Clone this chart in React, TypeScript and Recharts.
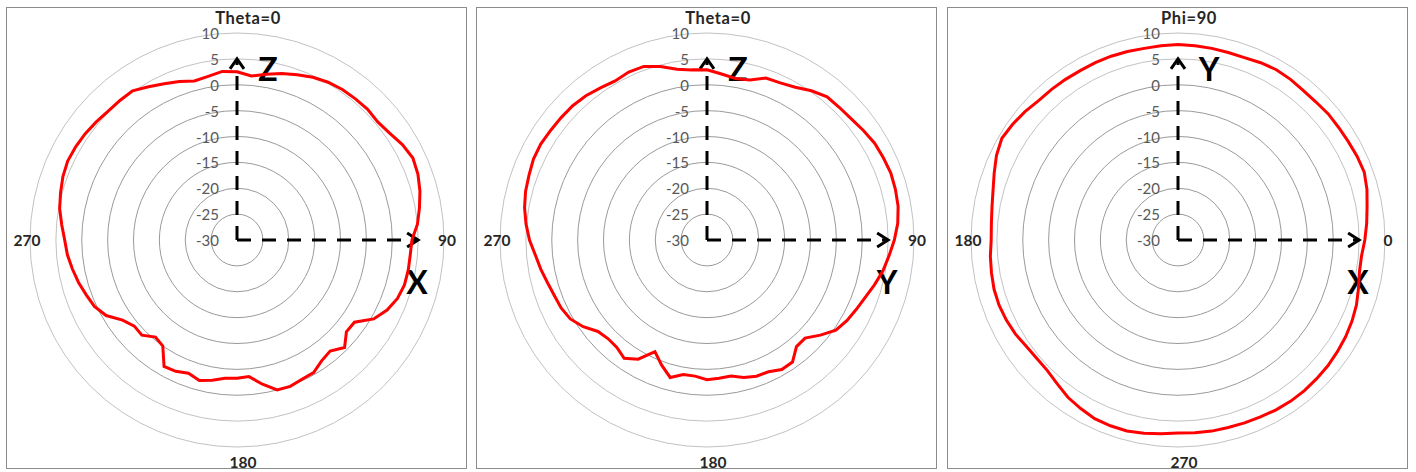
import React from 'react'
import { RadarChart, Radar, PolarGrid, PolarAngleAxis, PolarRadiusAxis, Customized } from 'recharts'

// measured angles (deg) – same sampling for all three cuts
const ANGLES = [
  0, 5, 10, 15, 20, 25, 30, 35, 40, 45, 50, 55, 60, 65, 70, 75, 80, 85,
  90, 95, 100, 105, 110, 115, 120, 125, 130, 135, 140, 145, 150, 155, 160, 165, 170, 175,
  180, 185, 190, 195, 200, 205, 210, 215, 220, 225, 230, 235, 240, 245, 250, 255, 260, 265,
  270, 275, 280, 285, 290, 295, 300, 305, 310, 315, 320, 325, 330, 335, 340, 345, 350, 355,
]

// gain in dBi, XZ plane (Theta=0 at top)
const GAIN_XZ = [
  2.5, 1.8, 2.5, 3.3, 4.0, 4.7, 5.2, 5.5, 5.6, 5.7, 5.5, 6.0, 6.9, 7.5, 7.2, 6.6, 5.8, 5.0,
  3.8, 3.6, 3.6, 3.5, 3.0, 2.0, 0.5, -2.3, -2.4, -0.6, -2.0, -1.5, -0.4, -0.3, 0.1, 0.0, -1.7, -3.5,
  -3.3, -3.2, -2.5, -1.9, -2.6, -2.0, -1.8, -5.0, -5.5, -4.0, -4.1, -3.0, -0.8, 0.4, 1.0, 1.7, 2.3, 2.9,
  3.3, 4.0, 4.8, 5.3, 5.8, 6.1, 6.0, 5.8, 5.5, 5.2, 5.2, 5.2, 4.2, 3.3, 2.6, 1.8, 2.1, 2.7,
]

// gain in dBi, YZ plane (Theta=0 at top)
const GAIN_YZ = [
  2.9, 2.2, 1.7, 2.0, 3.3, 3.5, 4.1, 5.2, 6.1, 6.2, 6.4, 6.9, 7.4, 7.6, 7.8, 7.7, 7.5, 7.0,
  6.2, 5.3, 4.5, 3.5, 2.5, 1.8, 1.2, 0.4, -1.4, -3.2, -3.1, -1.2, -1.1, -1.9, -2.0, -2.5, -3.3, -3.2,
  -3.0, -3.6, -3.6, -2.5, -4.3, -6.2, -3.4, -2.1, -2.9, -3.0, -2.5, -0.8, 0.5, 1.1, 1.4, 1.9, 2.6, 3.3,
  4.3, 5.1, 5.8, 6.3, 6.6, 7.0, 7.1, 6.9, 6.8, 6.7, 6.4, 5.9, 5.5, 5.8, 5.7, 4.7, 3.5, 3.0,
]

// gain in dBi, XY plane (Phi, 0 at right, counter-clockwise)
const GAIN_XY = [
  6.1, 6.6, 7.1, 7.8, 8.3, 8.2, 8.0, 7.9, 7.9, 7.7, 7.7, 7.9, 8.0, 7.8, 7.5, 7.5, 7.6, 7.7,
  7.8, 7.7, 7.6, 7.7, 7.8, 7.8, 7.8, 7.9, 8.0, 8.1, 8.6, 9.0, 9.3, 8.7, 7.8, 7.0, 6.5, 6.2,
  6.1, 6.4, 6.6, 6.8, 6.8, 6.6, 6.3, 5.8, 5.6, 5.7, 6.3, 7.1, 7.6, 8.1, 8.2, 8.2, 7.9, 7.6,
  7.3, 7.4, 7.5, 7.5, 7.6, 7.7, 7.9, 8.0, 8.0, 7.9, 7.8, 7.6, 7.4, 7.1, 6.7, 6.1, 5.6, 5.6,
]

const RADIUS_TICKS = [-30, -25, -20, -15, -10, -5, 0, 5, 10]

const LABELS_THETA: Record<number, string> = { 0: 'Theta=0', 90: '90', 180: '180', 270: '270' }
const LABELS_PHI: Record<number, string> = { 0: '0', 90: 'Phi=90', 180: '180', 270: '270' }

const W = 470
const H = 472
const CX = 237
const CY = 240
const R = 207
const MIN = -30
const MAX = 10
const FONT = 'Lato, "Open Sans", sans-serif'

const rOf = (v: number) => ((v - MIN) / (MAX - MIN)) * R

function AxisArrows({ up, right }: { up: string; right: string }) {
  const r = rOf(5)
  const k = { stroke: '#000', strokeWidth: 3, fill: 'none' }
  return (
    <g>
      <line x1={CX} y1={CY} x2={CX} y2={CY - r} {...k} strokeDasharray="14 11" />
      <line x1={CX} y1={CY} x2={CX + r} y2={CY} {...k} strokeDasharray="14 11" />
      <polyline points={`${CX - 7},${CY - r + 10} ${CX},${CY - r} ${CX + 7},${CY - r + 10}`} {...k} />
      <polyline points={`${CX + r - 11},${CY - 7} ${CX + r},${CY} ${CX + r - 11},${CY + 7}`} {...k} />
      <text x={CX + 31} y={CY - 172} textAnchor="middle" dominantBaseline="central"
        fontSize={32} fontWeight="bold" fontFamily={FONT} fill="#000">{up}</text>
      <text x={CX + 180} y={CY + 41} textAnchor="middle" dominantBaseline="central"
        fontSize={32} fontWeight="bold" fontFamily={FONT} fill="#000">{right}</text>
    </g>
  )
}

const RadiusTick = (props: any) => {
  const { x, y, payload } = props
  return (
    <text x={x - 18} y={y} textAnchor="end" dominantBaseline="central"
      fontSize={15} fontFamily={FONT} fill="#595959">{payload.value}</text>
  )
}

function angleTick(labels: Record<number, string>) {
  return (props: any) => {
    const { payload } = props
    const text = labels[payload.value]
    if (text === undefined) return <g />
    const a = (payload.coordinate * Math.PI) / 180
    const c = Math.cos(a)
    const s = Math.sin(a)
    const d = R + 3 + 12 * Math.abs(s)
    let x = CX + c * d + (Math.abs(s) > 0.5 ? 6 : 0)
    const y = CY - s * d
    const title = text.includes('=')
    if (title) x += 5
    return (
      <text x={x} y={y} textAnchor="middle" dominantBaseline="central" letterSpacing={title ? 0.6 : 0}
        fontSize={title ? 16.5 : 15.5} fontWeight="bold" fontFamily={FONT} fill="#262626">{text}</text>
    )
  }
}

// every panel is drawn clockwise from the top; `order` lists the angle shown at each step
function Panel({ gains, labels, up, right, order, left }: any) {
  const data = order.map((angle: number) => ({ angle, gain: gains[ANGLES.indexOf(angle)] }))
  const inner = RADIUS_TICKS.filter((t) => t <= 0).map(rOf)
  const outer = RADIUS_TICKS.filter((t) => t > 0).map(rOf)
  return (
    <div style={{ position: 'absolute', left, top: 0, width: W, height: H }}>
      <RadarChart width={W} height={H} data={data} cx={CX} cy={CY} outerRadius={R}
        startAngle={90} endAngle={-270} margin={{ top: 0, right: 0, bottom: 0, left: 0 }}>
        <PolarGrid gridType="circle" radialLines={false} polarRadius={inner} stroke="#9a9a9a" strokeWidth={1} />
        <PolarGrid gridType="circle" radialLines={false} polarRadius={outer} stroke="#c2c2c2" strokeWidth={1} />
        <PolarAngleAxis dataKey="angle" axisLine={false} tickLine={false} tick={angleTick(labels)} />
        <PolarRadiusAxis angle={90} type="number" domain={[MIN, MAX]} ticks={RADIUS_TICKS} tickCount={9}
          axisLine={false} tickLine={false} tick={<RadiusTick />} />
        <Customized component={<AxisArrows up={up} right={right} />} />
        <Radar dataKey="gain" stroke="#ff0000" strokeWidth={3} fill="none" fillOpacity={0}
          dot={false} isAnimationActive={false} />
      </RadarChart>
    </div>
  )
}

const BORDERS = [6, 476, 947]
// Phi cut: 90 at top, going clockwise means decreasing phi
const ORDER_PHI = ANGLES.map((a) => (450 - a) % 360)

export default function App() {
  return (
    <div style={{ position: 'absolute', left: 0, top: 0, width: 1416, height: 472, background: '#fff', fontFamily: FONT }}>
      {BORDERS.map((l) => (
        <div key={l} style={{ position: 'absolute', left: l, top: 7, width: 461, height: 462,
          border: '1px solid #8c8c8c', boxSizing: 'border-box' }} />
      ))}
      <Panel gains={GAIN_XZ} labels={LABELS_THETA} up="Z" right="X" order={ANGLES} left={0} />
      <Panel gains={GAIN_YZ} labels={LABELS_THETA} up="Z" right="Y" order={ANGLES} left={470} />
      <Panel gains={GAIN_XY} labels={LABELS_PHI} up="Y" right="X" order={ORDER_PHI} left={941} />
    </div>
  )
}
